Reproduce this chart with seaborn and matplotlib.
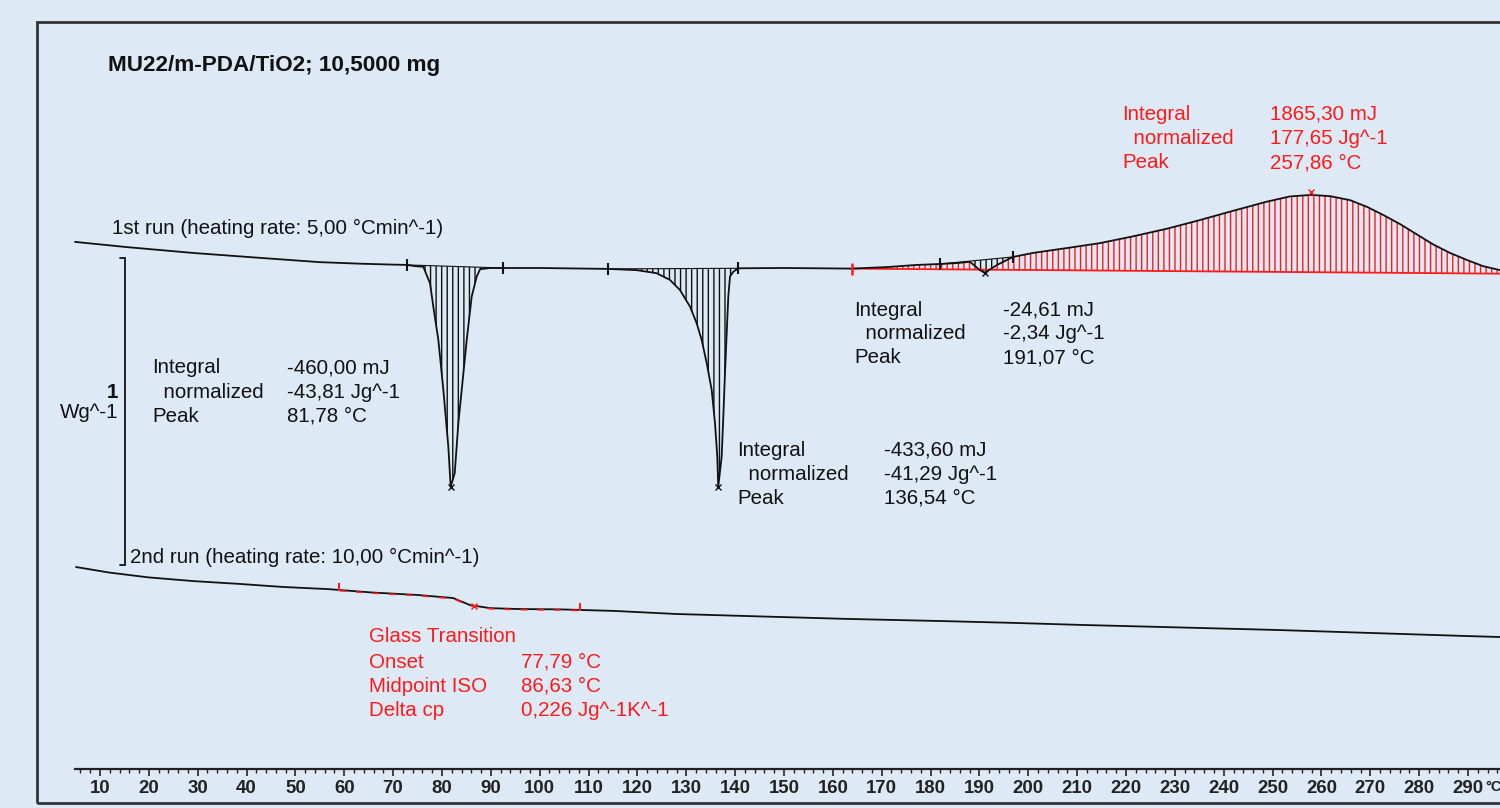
import numpy as np
import pandas as pd
import seaborn as sns
import matplotlib
matplotlib.use("Agg")
import matplotlib.pyplot as plt
from matplotlib.ticker import FixedLocator
from matplotlib.patches import Rectangle

# ---------------- data (temperature in degC, heat flow in W/g, offset for display) -------------
run1_T = [4.89, 15.53, 29.04, 42.75, 55.03, 63.22, 69.98, 72.84, 74.48, 76.18, 77.55, 78.23,
          79.26, 80.28, 81.30, 81.78, 82.61, 83.35, 84.04, 85.06, 86.08, 87.11, 87.79, 89.83,
          92.49, 100.0, 114.0, 119.85, 123.94, 126.67, 128.72, 130.77, 132.13, 133.16, 134.18,
          135.20, 135.88, 136.35, 136.54, 137.24, 137.58, 137.92, 138.27, 138.60, 138.95,
          139.63, 140.65, 150.0, 163.9, 171.07, 177.2, 181.93, 185.4, 188.07, 190.1, 191.07,
          193.6, 196.87, 200.96, 207.92, 214.67, 221.42, 228.4, 235.1, 241.86, 248.82, 253.53,
          257.86, 261.75, 265.85, 269.33, 272.6, 276.08, 279.56, 282.83, 286.31, 289.79,
          293.07, 296.55, 300.6]
run1_S = [1.844, 1.827, 1.808, 1.792, 1.778, 1.773, 1.770, 1.769, 1.765, 1.763, 1.709, 1.633,
          1.524, 1.362, 1.177, 1.046, 1.091, 1.254, 1.362, 1.524, 1.666, 1.731, 1.755, 1.759,
          1.759, 1.759, 1.756, 1.752, 1.742, 1.720, 1.687, 1.633, 1.579, 1.524, 1.449,
          1.362, 1.253, 1.144, 1.046, 1.144, 1.275, 1.416, 1.546, 1.666, 1.731,
          1.747, 1.758, 1.759, 1.757, 1.762, 1.769, 1.772, 1.775, 1.779, 1.752, 1.743,
          1.769, 1.795, 1.808, 1.824, 1.840, 1.862, 1.887, 1.915, 1.945, 1.975, 1.992,
          1.997, 1.993, 1.980, 1.958, 1.932, 1.902, 1.868, 1.836, 1.808, 1.785,
          1.765, 1.752, 1.743]

run2_T = [5.1, 11.85, 20.04, 29.25, 38.46, 47.45, 56.67, 65.67, 74.88, 82.25, 85.73, 89.83,
          95.97, 104.16, 115.21, 127.9, 143.05, 162.7, 182.14, 196.87, 211.6, 231.3, 250.7,
          270.35, 290.0, 296.55, 300.6]
run2_S = [0.785, 0.767, 0.751, 0.739, 0.730, 0.720, 0.713, 0.702, 0.694, 0.684, 0.661, 0.651,
          0.648, 0.647, 0.642, 0.632, 0.625, 0.616, 0.609, 0.603, 0.596, 0.588, 0.580,
          0.570, 0.560, 0.557, 0.554]

# integration limits (endotherms, black) and exotherm (red)
endo_limits = [(72.84, 92.49), (114.0, 140.65), (181.93, 196.87)]
endo_peaks = [81.78, 136.54, 191.07]
exo_limits = (163.9, 300.6)
exo_baseline_S = (1.757, 1.740)
exo_peak = 257.86
tg_limits = (59.0, 108.3)
tg_mid = 86.63

tick_values = list(range(10, 300, 10))
tick_labels = [str(v) for v in tick_values]
minor_values = [v for v in range(6, 298, 2) if v % 10 != 0]

title = "MU22/m-PDA/TiO2; 10,5000 mg"
run1_label = "1st run (heating rate: 5,00 °Cmin^-1)"
run2_label = "2nd run (heating rate: 10,00 °Cmin^-1)"
endo_texts = [("-460,00 mJ", "-43,81 Jg^-1", "81,78 °C"),
              ("-433,60 mJ", "-41,29 Jg^-1", "136,54 °C"),
              ("-24,61 mJ", "-2,34 Jg^-1", "191,07 °C")]
exo_texts = ("1865,30 mJ", "177,65 Jg^-1", "257,86 °C")
tg_rows = [("Onset", "77,79 °C"), ("Midpoint ISO", "86,63 °C"), ("Delta cp", "0,226 Jg^-1K^-1")]
scale_value = 1.0  # W/g

# ---------------- style ----------------
BG = "#DDE9F5"
RED = "#FF1A1A"
INK = "#111111"
sns.set_theme(style="white")
plt.rcParams["font.family"] = ["Liberation Sans", "DejaVu Sans"]
plt.rcParams["hatch.linewidth"] = 1.0

W, H = 1500, 808
X0, KX, KY = 51.1, 4.886, 307.0
FS = 14.8

fig = plt.figure(figsize=(15, 8.08), dpi=100, facecolor=BG)
ax = fig.add_axes([0, 0, 1, 1])
ax.set_facecolor("none")
ax.set_xlim((0 - X0) / KX, (W - X0) / KX)
ax.set_ylim(0, H / KY)


def ftext(x, y, s, **kw):
    kw.setdefault("va", "center")
    kw.setdefault("ha", "left")
    kw.setdefault("fontsize", FS)
    kw.setdefault("color", INK)
    fig.text(x / W, 1 - y / H, s, **kw)


df1 = pd.DataFrame({"T": run1_T, "S": run1_S})
df2 = pd.DataFrame({"T": run2_T, "S": run2_S})
T1 = np.array(run1_T)
S1 = np.array(run1_S)

# exotherm red hatch
m = (T1 >= exo_limits[0]) & (T1 <= exo_limits[1])
base = np.interp(T1[m], exo_limits, exo_baseline_S)
ax.fill_between(T1[m], S1[m], base, facecolor="none", edgecolor=RED, hatch="|||", linewidth=0)
ax.plot(exo_limits, exo_baseline_S, color=RED, lw=1.3)

# endotherm black hatch
for (a, b) in endo_limits:
    mm = (T1 >= a) & (T1 <= b)
    sa, sb = np.interp([a, b], T1, S1)
    bl = np.interp(T1[mm], [a, b], [sa, sb])
    ax.fill_between(T1[mm], S1[mm], bl, facecolor="none", edgecolor=INK, hatch="|||", linewidth=0)
    ax.plot([a, b], [sa, sb], color=INK, lw=0.8)
    ax.plot([a, b], [sa, sb], ls="none", marker="|", ms=8, mew=1.5, color=INK)

sns.lineplot(data=df1, x="T", y="S", ax=ax, color=INK, lw=1.3, estimator=None, sort=False)
sns.lineplot(data=df2, x="T", y="S", ax=ax, color=INK, lw=1.3, estimator=None, sort=False)

# peak markers
pk = np.interp(endo_peaks, T1, S1)
ax.plot(endo_peaks, pk, ls="none", marker="x", ms=5, mew=1, color=INK)
ax.plot([exo_peak], [np.interp(exo_peak, T1, S1) + 0.01], ls="none", marker="x", ms=5, mew=1, color=RED)
ax.plot([exo_limits[0]], [exo_baseline_S[0]], ls="none", marker="|", ms=9, mew=1.8, color=RED)

# glass transition marks on run 2
T2 = np.array(run2_T)
S2 = np.array(run2_S)
mg = (T2 >= tg_limits[0]) & (T2 <= tg_limits[1])
tg_T = np.concatenate([[tg_limits[0]], T2[mg], [tg_limits[1]]])
tg_S = np.interp(tg_T, T2, S2)
ax.plot(tg_T, tg_S - 0.002, color=RED, lw=1.2, ls=(0, (4, 6)))
ax.plot(tg_limits, np.interp(tg_limits, T2, S2) + 0.01, ls="none", marker="|", ms=6, mew=1.5, color=RED)
ax.plot([tg_mid], [np.interp(tg_mid, T2, S2)], ls="none", marker="x", ms=4, mew=1, color=RED)

# scale bar (1 W/g)
bar_T = (125 - X0) / KX
bar_top = (H - 258) / KY
ax.plot([bar_T, bar_T], [bar_top, bar_top - scale_value], color=INK, lw=1.3)
ax.plot([bar_T - 1.0, bar_T], [bar_top, bar_top], color=INK, lw=1.3)
ax.plot([bar_T - 1.0, bar_T], [bar_top - scale_value, bar_top - scale_value], color=INK, lw=1.3)

# x axis
for sp in ["top", "left", "right"]:
    ax.spines[sp].set_visible(False)
ax.spines["bottom"].set_position(("data", (H - 769) / KY))
ax.spines["bottom"].set_bounds((75 - X0) / KX, (W - X0) / KX)
ax.spines["bottom"].set_color("#222222")
ax.spines["bottom"].set_linewidth(1.6)
ax.set_xticks(tick_values)
ax.set_xticklabels(tick_labels, fontsize=13.4, fontweight="bold", color="#222222")
ax.xaxis.set_minor_locator(FixedLocator(minor_values))
ax.tick_params(axis="x", which="major", direction="out", length=5, width=1.2, pad=3, bottom=True, color="#222222")
ax.tick_params(axis="x", which="minor", direction="out", length=3, width=1.0, bottom=True, color="#222222")
ax.set_yticks([])
ax.set_xlabel("")
ax.set_ylabel("")

# frame
fig.patches.append(Rectangle((37 / W, 1 - 803 / H), 1.2, (803 - 22) / H, transform=fig.transFigure,
                             fill=False, lw=2, ec="#333333"))

# texts
ftext(108, 65, title, fontsize=16.2, fontweight="bold")
ftext(112, 228, run1_label)
ftext(130, 557, run2_label)
ftext(118, 393, "1", ha="right", fontweight="bold")
ftext(118, 412, "Wg^-1", ha="right")

endo_pos = [(152, 368, 287), (737, 450, 884), (854, 310, 1003)]
for (x, y, xv), vals in zip(endo_pos, endo_texts):
    for i, lab in enumerate(["Integral", "  normalized", "Peak"]):
        ftext(x, y + 24 * i, lab)
        ftext(xv, y + 24 * i, vals[i])

for i, lab in enumerate(["Integral", "  normalized", "Peak"]):
    ftext(1122, 114 + 24.5 * i, lab, color=RED)
    ftext(1270, 114 + 24.5 * i, exo_texts[i], color=RED)

ftext(369, 637, "Glass Transition", color=RED)
for i, (lab, val) in enumerate(tg_rows):
    ftext(369, 662 + 24.5 * i, lab, color=RED)
    ftext(521, 662 + 24.5 * i, val, color=RED)

ftext(1485, 787, "°C", fontsize=10.5, fontweight="bold", color="#222222")

fig.savefig("out.png", dpi=100, facecolor=BG)
